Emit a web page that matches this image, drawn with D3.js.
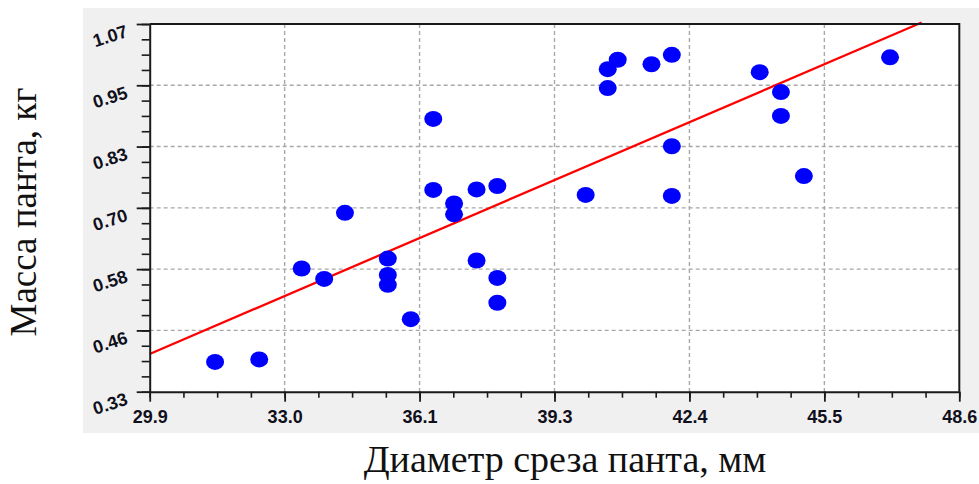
<!DOCTYPE html>
<html>
<head>
<meta charset="utf-8">
<script src="https://cdn.jsdelivr.net/npm/d3@7"></script>
<style>
  body { margin: 0; background: #fff; }
  svg { display: block; }
</style>
</head>
<body>
<svg id="chart" width="979" height="484"></svg>
<script>
// ---- данные ----
const diametr = [31.41, 32.43, 33.41, 33.93, 34.41, 35.40, 35.40, 35.40, 35.93, 36.45,
  36.45, 36.93, 36.93, 37.45, 37.93, 37.45, 37.93, 37.93, 39.97, 40.48,
  40.48, 40.71, 41.49, 41.96, 41.96, 41.96, 43.99, 44.48, 44.48, 45.01, 47.00];
const massa = [0.390, 0.395, 0.578, 0.557, 0.690, 0.598, 0.565, 0.545, 0.476, 0.879,
  0.736, 0.709, 0.687, 0.737, 0.744, 0.594, 0.559, 0.509, 0.726, 0.941,
  0.979, 0.998, 0.989, 1.008, 0.824, 0.724, 0.973, 0.933, 0.885, 0.764, 1.003];

// линия регрессии (концы)
const regX = [29.9, 47.73];
const regY = [0.406, 1.073];

const xDomain = [29.9, 48.6];
const yDomain = [0.33, 1.07];
const xTickLabels = ["29.9", "33.0", "36.1", "39.3", "42.4", "45.5", "48.6"];
const yTickLabels = ["0.33", "0.46", "0.58", "0.70", "0.83", "0.95", "1.07"];

const xTitle = "Диаметр среза панта, мм";
const yTitle = "Масса панта, кг";

// ---- геометрия ----
const plot = { left: 149.7, top: 24, right: 959.3, bottom: 391.7 };

const svg = d3.select("#chart");

// серая подложка
svg.append("rect")
  .attr("x", 83).attr("y", 8)
  .attr("width", 979 - 83).attr("height", 425)
  .attr("fill", "#f0f0f0");

svg.append("rect")
  .attr("x", plot.left).attr("y", plot.top)
  .attr("width", plot.right - plot.left).attr("height", plot.bottom - plot.top)
  .attr("fill", "#fff");

const x = d3.scaleLinear().domain(xDomain).range([plot.left, plot.right]);
const y = d3.scaleLinear().domain(yDomain).range([plot.bottom, plot.top]);

// деления: 6 основных интервалов, по 4 мелких в каждом
const xMajor = d3.range(7).map(i => xDomain[0] + i * (xDomain[1] - xDomain[0]) / 6);
const yMajor = d3.range(7).map(i => yDomain[0] + i * (yDomain[1] - yDomain[0]) / 6);
const xMinor = d3.range(25).map(i => xDomain[0] + i * (xDomain[1] - xDomain[0]) / 24);
const yMinor = d3.range(25).map(i => yDomain[0] + i * (yDomain[1] - yDomain[0]) / 24);

// сетка
const grid = svg.append("g")
  .attr("stroke", "#a8a8a8")
  .attr("stroke-width", 1.4)
  .attr("stroke-dasharray", "4,3");

grid.selectAll(".gx")
  .data(xMajor.slice(1, -1))
  .enter().append("line")
  .attr("x1", d => x(d)).attr("x2", d => x(d))
  .attr("y1", plot.top).attr("y2", plot.bottom);

grid.selectAll(".gy")
  .data(yMajor.slice(1, -1))
  .enter().append("line")
  .attr("x1", plot.left).attr("x2", plot.right)
  .attr("y1", d => y(d)).attr("y2", d => y(d));

// линия регрессии
svg.append("path")
  .datum(regX.map((v, i) => [v, regY[i]]))
  .attr("fill", "none")
  .attr("stroke", "#ff0000")
  .attr("stroke-width", 2.3)
  .attr("d", d3.line().x(d => x(d[0])).y(d => y(d[1])));

// точки
svg.append("g")
  .selectAll("ellipse")
  .data(diametr.map((v, i) => ({ d: v, m: massa[i] })))
  .enter().append("ellipse")
  .attr("cx", p => x(p.d))
  .attr("cy", p => y(p.m))
  .attr("rx", 9)
  .attr("ry", 8)
  .attr("fill", "#0000ff");

// рамка сверху и справа
svg.append("path")
  .attr("d", `M${plot.left},${plot.top}H${plot.right}V${plot.bottom}`)
  .attr("fill", "none")
  .attr("stroke", "#1a1a1a")
  .attr("stroke-width", 2);

// оси: мелкие деления
svg.append("g")
  .attr("transform", `translate(0,${plot.bottom})`)
  .call(d3.axisBottom(x).tickValues(xMinor).tickSize(6).tickSizeOuter(0).tickFormat(""))
  .call(g => g.select(".domain").remove())
  .call(g => g.selectAll("line").attr("stroke", "#1a1a1a").attr("stroke-width", 1.6));

svg.append("g")
  .attr("transform", `translate(${plot.left},0)`)
  .call(d3.axisLeft(y).tickValues(yMinor).tickSize(8).tickSizeOuter(0).tickFormat(""))
  .call(g => g.select(".domain").remove())
  .call(g => g.selectAll("line").attr("stroke", "#1a1a1a").attr("stroke-width", 1.6));

// оси: основные деления и подписи
const xAxis = svg.append("g")
  .attr("transform", `translate(0,${plot.bottom})`)
  .call(d3.axisBottom(x).tickValues(xMajor).tickSize(10).tickSizeOuter(0)
    .tickFormat((d, i) => xTickLabels[i]));

const yAxis = svg.append("g")
  .attr("transform", `translate(${plot.left},0)`)
  .call(d3.axisLeft(y).tickValues(yMajor).tickSize(13).tickSizeOuter(0)
    .tickFormat((d, i) => yTickLabels[i]));

[xAxis, yAxis].forEach(g => {
  g.select(".domain").attr("stroke", "#1a1a1a").attr("stroke-width", 2);
  g.selectAll(".tick line").attr("stroke", "#1a1a1a").attr("stroke-width", 1.8);
  g.selectAll(".tick text")
    .attr("fill", "#10101c")
    .style("font-family", "'Liberation Sans', Arial, sans-serif")
    .style("font-weight", "bold")
    .style("font-size", "18px");
});

xAxis.selectAll(".tick text")
  .attr("y", null).attr("dy", null)
  .attr("transform", "translate(0,31)");

yAxis.selectAll(".tick text")
  .attr("x", null).attr("dy", null)
  .attr("text-anchor", "end")
  .attr("transform", "translate(-21,12) rotate(-18)");

// подписи осей
svg.append("text")
  .attr("x", 565)
  .attr("y", 472)
  .attr("text-anchor", "middle")
  .style("font-family", "'Liberation Serif', 'Times New Roman', serif")
  .style("font-size", "38px")
  .attr("fill", "#111")
  .text(xTitle);

svg.append("text")
  .attr("transform", "translate(36,212) rotate(-90)")
  .attr("text-anchor", "middle")
  .style("font-family", "'Liberation Serif', 'Times New Roman', serif")
  .style("font-size", "37px")
  .attr("fill", "#111")
  .text(yTitle);
</script>
</body>
</html>
